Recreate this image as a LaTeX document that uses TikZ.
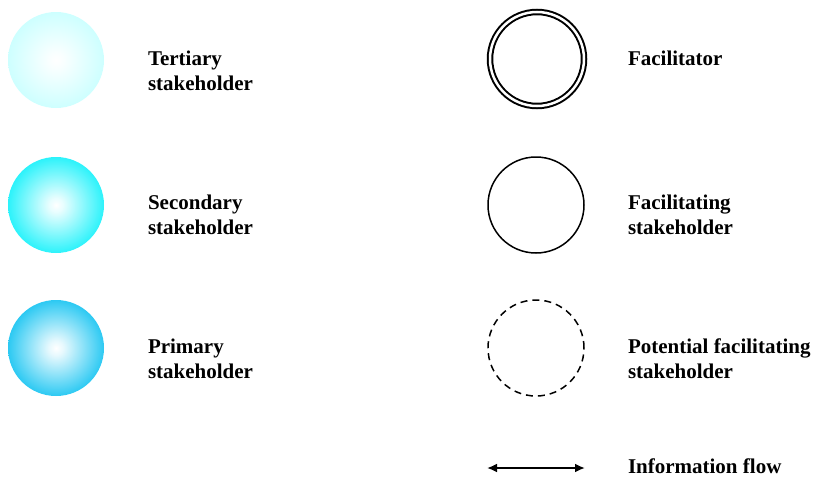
\documentclass[tikz,border=0pt]{standalone}
\usepackage{fontspec}
\setmainfont{Liberation Serif}
\usetikzlibrary{arrows.meta,positioning}

\definecolor{tertiarycol}{RGB}{195,255,255}
\definecolor{secondarycol}{RGB}{0,240,250}
\definecolor{primarycol}{RGB}{0,190,240}
\pgfdeclareradialshading{tertiaryshade}{\pgfpoint{0bp}{0bp}}{color(0bp)=(white); color(4bp)=(white!90!tertiarycol); color(30bp)=(tertiarycol); color(50bp)=(tertiarycol)}
\pgfdeclareradialshading{secondaryshade}{\pgfpoint{0bp}{0bp}}{color(0bp)=(white); color(4bp)=(white!90!secondarycol); color(30bp)=(secondarycol); color(50bp)=(secondarycol)}
\pgfdeclareradialshading{primaryshade}{\pgfpoint{0bp}{0bp}}{color(0bp)=(white); color(4bp)=(white!90!primarycol); color(30bp)=(primarycol); color(50bp)=(primarycol)}

\begin{document}
\begin{tikzpicture}[
      x=1pt, y=-1pt,
      every node/.style={inner sep=0pt, outer sep=0pt},
      member/.style={circle, minimum size=96pt},
      legendtext/.style={font=\bfseries\fontsize{21}{24.5}\selectfont, align=left, anchor=base west}
    ]
    \useasboundingbox (0,0) rectangle (813,479);

    % stakeholder kinds
    \node[member, shading=tertiaryshade] (tertiary) at (56,60) {};
    \node[legendtext] (tertiarytext) at (148,90) {Tertiary\\stakeholder};

    \node[member, shading=secondaryshade] (secondary) at (56,205) {};
    \node[legendtext] (secondarytext) at (148,234) {Secondary\\stakeholder};

    \node[member, shading=primaryshade] (primary) at (56,348) {};
    \node[legendtext] (primarytext) at (148,378) {Primary\\stakeholder};

    % facilitators
    \node[member, minimum size=94pt, draw, double, double distance=2.5pt, line width=2pt] (facilitator) at (537,59) {};
    \node[legendtext] (facilitatortext) at (628,65) {Facilitator};

    \node[member, draw, line width=1.5pt] (facilitating) at (536,205) {};
    \node[legendtext] (facilitatingtext) at (628,234) {Facilitating\\stakeholder};

    \node[member, draw, line width=1.5pt, dash pattern=on 7pt off 5pt] (potential) at (536,348) {};
    \node[legendtext] (potentialtext) at (628,378) {Potential facilitating\\stakeholder};

    % information flow
    \coordinate (flowleft) at (487,468);
    \coordinate (flowright) at (585,468);
    \draw[{Latex[length=10pt,width=9pt]}-{Latex[length=10pt,width=9pt]}, line width=2pt] (flowleft) -- (flowright);
    \node[legendtext] (flowtext) at (628,473) {Information flow};
\end{tikzpicture}
\end{document}
